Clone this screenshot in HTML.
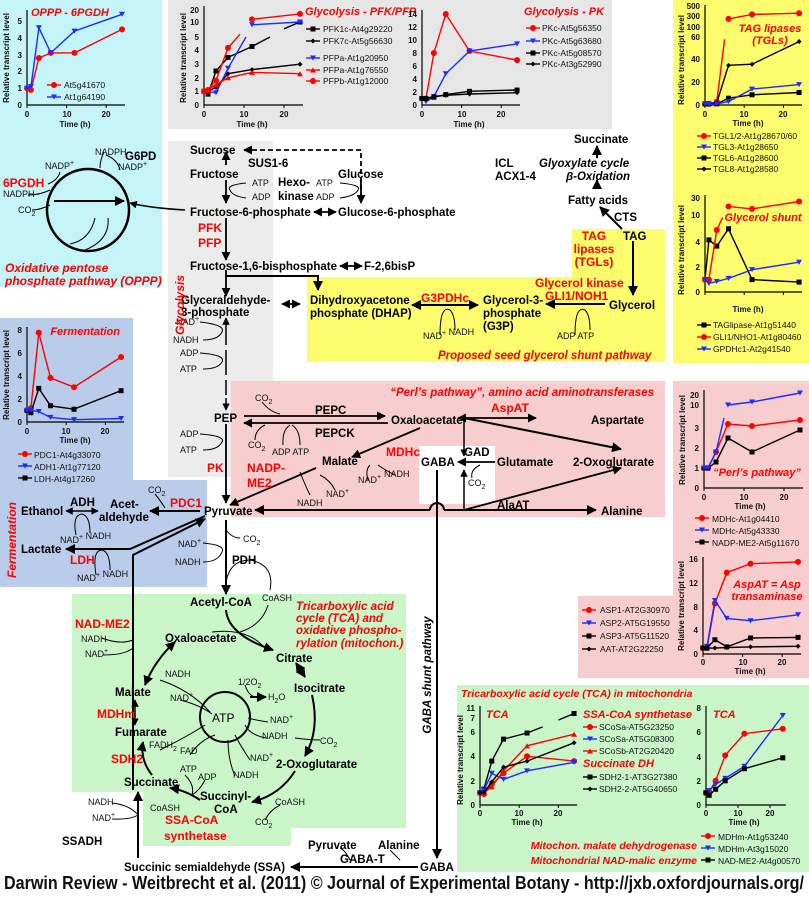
<!DOCTYPE html>
<html><head><meta charset="utf-8">
<style>
html,body{margin:0;padding:0;background:#fff}
svg{display:block}
text{font-family:"Liberation Sans",Arial,sans-serif}
.b{font-weight:bold;font-size:11.5px;fill:#000}
.r{font-weight:bold;font-size:12px;fill:#f00}
.ri{font-weight:bold;font-style:italic;font-size:11px;fill:#f00}
.s{font-size:9px;fill:#111}
.t{font-size:8px;fill:#111}
.lg{font-size:8.5px;fill:#111}
.ax{font-size:8px;fill:#111;font-weight:bold}
</style></head><body>
<svg id="S" width="809" height="901" viewBox="0 0 809 901" xmlns="http://www.w3.org/2000/svg">
<defs>
<marker id="a" viewBox="0 0 10 10" refX="9" refY="5" markerWidth="5" markerHeight="5" orient="auto-start-reverse"><path d="M0 0L10 5L0 10z" fill="#000"/></marker>
</defs>
<rect x="0" y="0" width="162" height="287" fill="#c4f3f8"/>
<rect x="168" y="0" width="444" height="129" fill="#e6e6e6"/>
<rect x="168" y="141" width="105" height="336" fill="#ececec"/>
<rect x="673" y="0" width="136" height="363" fill="#fcfc6c"/>
<path d="M572 229H665V362H307V277H572Z" fill="#fcfc6c"/>
<path d="M0 318H133V480H207V587H0Z" fill="#b9cdea"/>
<rect x="231" y="381" width="434" height="136" fill="#f7cdcd"/>
<rect x="419" y="446" width="76" height="58" fill="#fff"/>
<path d="M673 381H809V678H578V596H673Z" fill="#f7cdcd"/>
<path d="M72 594H406V828H291V846H143V792H72Z" fill="#c9f5c9"/>
<rect x="457" y="685" width="352" height="187" fill="#c9f5c9"/>

<g id="charts"></g>

<g class="ax">
<text x="31" y="16" class="ri">OPPP - 6PGDH</text>
<text x="22" y="108" text-anchor="end">0</text><text x="22" y="91" text-anchor="end">1</text><text x="22" y="74" text-anchor="end">2</text><text x="22" y="58" text-anchor="end">3</text><text x="22" y="41" text-anchor="end">4</text><text x="22" y="24" text-anchor="end">5</text>
<text x="27" y="117" text-anchor="middle">0</text><text x="67" y="117" text-anchor="middle">10</text><text x="106" y="117" text-anchor="middle">20</text>
<text x="75" y="127" text-anchor="middle">Time (h)</text>
<text transform="translate(9,58) rotate(-90)" text-anchor="middle">Relative transcript level</text>
</g>
<text x="64" y="88" class="lg">At5g41670</text><text x="64" y="100" class="lg">At1g64190</text>

<g class="ax">
<text x="305" y="15" class="ri">Glycolysis - PFK/PFP</text>
<text x="199" y="108" text-anchor="end">0</text><text x="199" y="94" text-anchor="end">1</text><text x="199" y="81" text-anchor="end">2</text><text x="199" y="67" text-anchor="end">3</text><text x="199" y="53" text-anchor="end">4</text><text x="199" y="40" text-anchor="end">5</text><text x="199" y="25" text-anchor="end">10</text><text x="199" y="13" text-anchor="end">20</text>
<text x="204" y="117" text-anchor="middle">0</text><text x="244" y="117" text-anchor="middle">10</text><text x="284" y="117" text-anchor="middle">20</text>
<text x="252" y="127" text-anchor="middle">Time (h)</text>
<text transform="translate(186,58) rotate(-90)" text-anchor="middle">Relative transcript level</text>
</g>
<text x="323" y="32" class="lg">PFK1c-At4g29220</text><text x="323" y="44" class="lg">PFK7c-At5g56630</text><text x="323" y="61" class="lg">PFPa-At1g20950</text><text x="323" y="73" class="lg">PFPa-At1g76550</text><text x="323" y="84" class="lg">PFPb-At1g12000</text>

<g class="ax">
<text x="524" y="15" class="ri">Glycolysis - PK</text>
<text x="417" y="108" text-anchor="end">0</text><text x="417" y="95" text-anchor="end">2</text><text x="417" y="82" text-anchor="end">4</text><text x="417" y="69" text-anchor="end">6</text><text x="417" y="56" text-anchor="end">8</text><text x="417" y="43" text-anchor="end">10</text><text x="417" y="30" text-anchor="end">12</text><text x="417" y="17" text-anchor="end">14</text>
<text x="422" y="117" text-anchor="middle">0</text><text x="462" y="117" text-anchor="middle">10</text><text x="501" y="117" text-anchor="middle">20</text>
<text x="469" y="127" text-anchor="middle">Time (h)</text>
</g>
<text x="542" y="31" class="lg">PKc-At5g56350</text><text x="542" y="44" class="lg">PKc-At5g63680</text><text x="542" y="56" class="lg">PKc-At5g08570</text><text x="542" y="67" class="lg">PKc-At3g52990</text>

<g class="ax">
<text x="700" y="108" text-anchor="end">0</text><text x="700" y="85" text-anchor="end">20</text><text x="700" y="62" text-anchor="end">40</text><text x="700" y="40" text-anchor="end">60</text><text x="700" y="30" text-anchor="end">100</text><text x="700" y="19" text-anchor="end">300</text><text x="700" y="9" text-anchor="end">500</text>
<text x="705" y="117" text-anchor="middle">0</text><text x="744" y="117" text-anchor="middle">10</text><text x="783" y="117" text-anchor="middle">20</text>
<text x="748" y="126" text-anchor="middle">Time (h)</text>
<text transform="translate(684,60) rotate(-90)" text-anchor="middle">Relative transcript level</text>
<text x="770" y="32" class="ri" text-anchor="middle">TAG lipases</text><text x="770" y="44" class="ri" text-anchor="middle">(TGLs)</text>
</g>
<text x="713" y="139" class="lg">TGL1/2-At1g28670/60</text><text x="713" y="150" class="lg">TGL3-At1g28650</text><text x="713" y="161" class="lg">TGL6-At1g28600</text><text x="713" y="172" class="lg">TGL8-At1g28580</text>

<g class="ax">
<text x="700" y="295" text-anchor="end">0</text><text x="700" y="270" text-anchor="end">2</text><text x="700" y="245" text-anchor="end">4</text><text x="700" y="218" text-anchor="end">10</text><text x="700" y="201" text-anchor="end">30</text>
<text x="763" y="221" class="ri" text-anchor="middle">Glycerol shunt</text>
<text x="748" y="312" text-anchor="middle">Time (h)</text>
<text transform="translate(684,250) rotate(-90)" text-anchor="middle">Relative transcript level</text>
</g>
<text x="713" y="328" class="lg">TAGlipase-At1g51440</text><text x="713" y="340" class="lg">GLI1/NHO1-At1g80460</text><text x="713" y="352" class="lg">GPDHc1-At2g41540</text>

<g class="ax">
<text x="120" y="335" class="ri" text-anchor="end">Fermentation</text>
<text x="22" y="425" text-anchor="end">0</text><text x="22" y="402" text-anchor="end">2</text><text x="22" y="379" text-anchor="end">4</text><text x="22" y="356" text-anchor="end">6</text><text x="22" y="333" text-anchor="end">8</text>
<text x="27" y="434" text-anchor="middle">0</text><text x="66" y="434" text-anchor="middle">10</text><text x="105" y="434" text-anchor="middle">20</text>
<text x="75" y="443" text-anchor="middle">Time (h)</text>
<text transform="translate(9,375) rotate(-90)" text-anchor="middle">Relative transcript level</text>
</g>
<text x="34" y="458" class="lg">PDC1-At4g33070</text><text x="34" y="470" class="lg">ADH1-At1g77120</text><text x="34" y="482" class="lg">LDH-At4g17260</text>

<g class="ax">
<text x="699" y="491" text-anchor="end">0</text><text x="699" y="471" text-anchor="end">1</text><text x="699" y="451" text-anchor="end">2</text><text x="699" y="431" text-anchor="end">3</text><text x="699" y="408" text-anchor="end">10</text><text x="699" y="398" text-anchor="end">20</text>
<text x="704" y="500" text-anchor="middle">0</text><text x="744" y="500" text-anchor="middle">10</text><text x="784" y="500" text-anchor="middle">20</text>
<text x="750" y="509" text-anchor="middle">Time (h)</text>
<text transform="translate(685,440) rotate(-90)" text-anchor="middle">Relative transcript level</text>
<text x="757" y="476" class="ri" text-anchor="middle">“Perl’s pathway”</text>
</g>
<text x="712" y="522" class="lg">MDHc-At1g04410</text><text x="712" y="534" class="lg">MDHc-At5g43330</text><text x="712" y="546" class="lg">NADP-ME2-At5g11670</text>

<g class="ax">
<text x="698" y="657" text-anchor="end">0</text><text x="698" y="633" text-anchor="end">4</text><text x="698" y="610" text-anchor="end">8</text><text x="698" y="586" text-anchor="end">12</text><text x="698" y="562" text-anchor="end">16</text>
<text x="703" y="665" text-anchor="middle">0</text><text x="743" y="665" text-anchor="middle">10</text><text x="782" y="665" text-anchor="middle">20</text>
<text x="750" y="674" text-anchor="middle">Time (h)</text>
<text transform="translate(684,606) rotate(-90)" text-anchor="middle">Relative transcript level</text>
<text x="767" y="588" class="ri" text-anchor="middle">AspAT = Asp</text><text x="767" y="600" class="ri" text-anchor="middle">transaminase</text>
</g>
<text x="600" y="613" class="lg">ASP1-AT2G30970</text><text x="600" y="626" class="lg">ASP2-AT5G19550</text><text x="600" y="639" class="lg">ASP3-AT5G11520</text><text x="600" y="652" class="lg">AAT-AT2G22250</text>

<text x="461" y="697" class="ri" style="font-size:10.5px">Tricarboxylic acid cycle (TCA) in mitochondria</text>
<g class="ax">
<text x="486" y="718" class="ri">TCA</text>
<text x="475" y="808" text-anchor="end">0</text><text x="475" y="784" text-anchor="end">2</text><text x="475" y="759" text-anchor="end">4</text><text x="475" y="735" text-anchor="end">6</text><text x="475" y="721" text-anchor="end">7</text><text x="475" y="711" text-anchor="end">11</text>
<text x="480" y="816" text-anchor="middle">0</text><text x="519" y="816" text-anchor="middle">10</text><text x="558" y="816" text-anchor="middle">20</text>
<text x="527" y="825" text-anchor="middle">Time (h)</text>
<text transform="translate(463,760) rotate(-90)" text-anchor="middle">Relative transcript level</text>
<text x="583" y="718" class="ri">SSA-CoA synthetase</text>
<text x="583" y="767" class="ri">Succinate DH</text>
<text x="713" y="718" class="ri">TCA</text>
<text x="701" y="808" text-anchor="end">0</text><text x="701" y="784" text-anchor="end">2</text><text x="701" y="760" text-anchor="end">4</text><text x="701" y="735" text-anchor="end">6</text><text x="701" y="711" text-anchor="end">8</text>
<text x="706" y="816" text-anchor="middle">0</text><text x="738" y="816" text-anchor="middle">10</text><text x="770" y="816" text-anchor="middle">20</text>
<text x="744" y="825" text-anchor="middle">Time (h)</text>
</g>
<text x="599" y="730" class="lg">SCoSa-AT5G23250</text><text x="599" y="742" class="lg">SCoSa-AT5G08300</text><text x="599" y="754" class="lg">SCoSb-AT2G20420</text>
<text x="599" y="780" class="lg">SDH2-1-AT3G27380</text><text x="599" y="792" class="lg">SDH2-2-AT5G40650</text>
<text x="697" y="849" class="ri" text-anchor="end" style="font-size:10.5px">Mitochon. malate dehydrogenase</text>
<text x="697" y="864" class="ri" text-anchor="end" style="font-size:10.5px">Mitochondrial NAD-malic enzyme</text>
<text x="718" y="840" class="lg">MDHm-At1g53240</text><text x="718" y="852" class="lg">MDHm-At3g15020</text><text x="718" y="864" class="lg">NAD-ME2-At4g00570</text>

<g stroke="#000" fill="none" stroke-width="1.8">
<circle cx="88" cy="210" r="41" stroke-width="2.5"/>
<path d="M54 201H124" stroke-width="2" marker-end="url(#a)"/>
<path d="M185 210Q150 208 130 203" stroke-width="1.5" marker-end="url(#a)"/>
<path d="M95 218Q90 240 70 244M108 218Q110 240 85 250" stroke-width="1"/>
<path d="M100 168Q100 160 104 152M120 170Q118 160 106 155M60 172Q58 180 48 184M50 190Q40 195 28 195M50 205Q40 210 32 210" stroke-width="1"/>
<path d="M361 198V150H244" stroke-dasharray="5,3" stroke-width="1.8" marker-end="url(#a)"/>
<path d="M226 165V152" marker-end="url(#a)"/>
<path d="M226 180V203" marker-end="url(#a)"/>
<path d="M361 180V203" marker-end="url(#a)"/>
<path d="M246 183Q226 185 230 190Q232 196 246 198" stroke-width="1"/>
<path d="M340 183Q362 185 358 190Q355 196 340 198" stroke-width="1"/>
<path d="M314 212H336" marker-start="url(#a)" marker-end="url(#a)"/>
<path d="M226 218V260" marker-end="url(#a)"/>
<path d="M340 266H362" marker-start="url(#a)" marker-end="url(#a)"/>
<path d="M226 270V296" marker-end="url(#a)"/>
<path d="M226 276H318V290" stroke-width="2" marker-end="url(#a)"/>
<path d="M282 304H300" marker-start="url(#a)" marker-end="url(#a)"/>
<path d="M226 318V345M226 350V375M226 380V395M226 398V410" marker-start="url(#a)" marker-end="url(#a)" stroke-width="1.5"/>
<path d="M200 322Q226 325 222 332Q218 340 203 340M200 353Q226 355 222 362Q218 369 203 369" stroke-width="1" />
<path d="M226 424V503" marker-end="url(#a)"/>
<path d="M200 434Q226 436 222 442Q218 450 203 450" stroke-width="1"/>
<path d="M244 416H385" marker-end="url(#a)"/>
<path d="M388 423H244" marker-end="url(#a)"/>
<path d="M262 402Q270 412 280 414M265 425Q255 430 255 440M290 425Q282 430 283 445M292 425Q300 430 300 445" stroke-width="1"/>
<path d="M464 418H458" marker-end="url(#a)"/>
<path d="M464 418H536" marker-end="url(#a)"/>
<path d="M464 418V456" marker-end="url(#a)" stroke-width="1.5"/>
<path d="M464 418L621 449" marker-end="url(#a)" stroke-width="2"/>
<path d="M420 428L352 457" marker-end="url(#a)" stroke-width="1.8"/>
<path d="M316 468L230 505" marker-end="url(#a)"/>
<path d="M300 472Q305 485 310 495M320 475Q330 480 335 490M370 465Q365 470 368 480M378 465Q385 470 395 475" stroke-width="1"/>
<path d="M495 462H458" marker-end="url(#a)"/>
<path d="M480 465Q470 470 472 478" stroke-width="1"/>
<path d="M464 510V470" marker-end="url(#a)" stroke-width="1.5"/>
<path d="M464 510L621 468" marker-end="url(#a)"/>
<path d="M430 510H255" marker-end="url(#a)" stroke-width="2"/>
<path d="M430 510A7 7 0 0 1 444 510" stroke-width="2"/>
<path d="M444 510H596" marker-end="url(#a)" stroke-width="2"/>
<path d="M437 470V858" marker-end="url(#a)" stroke-width="2"/>
<path d="M412 305H478" marker-start="url(#a)" marker-end="url(#a)" stroke-width="2"/>
<path d="M440 335Q440 305 450 310Q455 315 455 330" stroke-width="1"/>
<path d="M605 304H546" marker-end="url(#a)" stroke-width="2"/>
<path d="M575 335Q575 305 585 310Q590 315 590 330" stroke-width="1"/>
<path d="M633 241V295" marker-end="url(#a)" stroke-width="2"/>
<path d="M622 229L600 207" marker-end="url(#a)" stroke-width="2"/>
<path d="M597 188V180" marker-end="url(#a)" stroke-width="2"/>
<path d="M597 158V146" marker-end="url(#a)" stroke-width="2"/>
<path d="M200 511H150" marker-end="url(#a)" stroke-width="2"/>
<path d="M165 508Q160 500 155 494" stroke-width="1"/>
<path d="M66 511H98" marker-start="url(#a)" marker-end="url(#a)" stroke-width="1.5"/>
<path d="M76 535Q72 515 82 514Q90 516 90 533" stroke-width="1"/>
<path d="M205 516L130 549H66" marker-end="url(#a)" stroke-width="2"/>
<path d="M96 575Q92 550 102 550Q110 552 110 570" stroke-width="1"/>
<path d="M133 790V555L205 519" marker-end="url(#a)" stroke-width="2"/>
<path d="M133 640Q120 645 102 638M133 648Q125 655 103 655" stroke-width="1"/>
<path d="M226 520V594" marker-end="url(#a)" stroke-width="2"/>
<path d="M226 530Q232 538 240 538M203 543Q226 545 222 552Q218 562 203 562" stroke-width="1"/>
<path d="M226 582Q230 560 250 560Q275 565 270 590" stroke-width="1"/>
<path d="M226 610Q228 635 273 650" marker-end="url(#a)" stroke-width="2"/>
<path d="M212 632Q245 628 262 645" stroke-width="1"/>
<path d="M268 605Q262 625 240 632" stroke-width="1"/>
<path d="M296 663L305 677" marker-start="url(#a)" marker-end="url(#a)" stroke-width="2"/>
<path d="M312 695Q320 730 305 756" marker-end="url(#a)" stroke-width="2"/>
<path d="M295 771Q280 795 252 802" marker-end="url(#a)" stroke-width="2"/>
<path d="M200 800Q185 790 170 788" marker-end="url(#a)" stroke-width="2"/>
<path d="M152 775Q140 760 143 742" marker-end="url(#a)" stroke-width="2"/>
<path d="M135 700V725" marker-start="url(#a)" marker-end="url(#a)" stroke-width="1.5"/>
<path d="M145 685Q155 660 175 642" marker-start="url(#a)" marker-end="url(#a)" stroke-width="2"/>
<path d="M138 858V792" marker-end="url(#a)" stroke-width="2"/>
<path d="M138 815Q130 805 112 803M138 815Q130 820 112 819" stroke-width="1"/>
<path d="M418 867H291" marker-end="url(#a)" stroke-width="2"/>
<path d="M350 860Q345 850 340 848M400 860Q395 855 390 850" stroke-width="1"/>
<circle cx="225" cy="717" r="25" stroke-width="2"/>
<path d="M250 697Q260 697 266 697" marker-end="url(#a)" stroke-width="2"/>
<path d="M245 685Q248 695 255 697M160 680Q190 690 210 712M180 700Q200 705 212 714M268 722Q255 720 248 718M266 738Q250 735 245 725M250 760Q240 745 235 735M235 776Q228 760 228 740M160 750Q190 735 205 725M190 755Q200 740 215 735M185 775Q195 785 192 795M205 780Q200 790 192 795M280 805Q270 810 265 820M320 740Q310 740 295 738" stroke-width="1"/>
</g>

<g class="s">
<text x="95" y="155">NADPH</text><text x="118" y="170">NADP<tspan dy="-4" font-size="7">+</tspan></text>
<text x="45" y="169">NADP<tspan dy="-4" font-size="7">+</tspan></text>
<text x="3" y="197">NADPH</text><text x="18" y="213">CO<tspan dy="3" font-size="7">2</tspan></text>
<text x="252" y="186">ATP</text><text x="252" y="200">ADP</text><text x="316" y="186">ATP</text><text x="316" y="200">ADP</text>
<text x="176" y="325">NAD<tspan dy="-4" font-size="7">+</tspan></text><text x="173" y="343">NADH</text><text x="180" y="356">ADP</text><text x="180" y="372">ATP</text>
<text x="180" y="437">ADP</text><text x="180" y="453">ATP</text>
<text x="255" y="401">CO<tspan dy="3" font-size="7">2</tspan></text><text x="248" y="448">CO<tspan dy="3" font-size="7">2</tspan></text><text x="272" y="455">ADP ATP</text>
<text x="297" y="506">NADH</text><text x="326" y="497">NAD<tspan dy="-4" font-size="7">+</tspan></text><text x="358" y="483">NAD<tspan dy="-4" font-size="7">+</tspan></text><text x="384" y="477">NADH</text>
<text x="468" y="486">CO<tspan dy="3" font-size="7">2</tspan></text>
<text x="423" y="339">NAD<tspan dy="-4" font-size="7">+</tspan> NADH</text><text x="557" y="339">ADP  ATP</text>
<text x="148" y="493">CO<tspan dy="3" font-size="7">2</tspan></text>
<text x="60" y="543">NAD<tspan dy="-4" font-size="7">+</tspan> NADH</text><text x="77" y="581">NAD<tspan dy="-4" font-size="7">+</tspan> NADH</text>
<text x="243" y="542">CO<tspan dy="3" font-size="7">2</tspan></text><text x="178" y="547">NAD<tspan dy="-4" font-size="7">+</tspan></text><text x="175" y="565">NADH</text>
<text x="262" y="601">CoASH</text>
<text x="81" y="642">NADH</text><text x="85" y="657">NAD<tspan dy="-4" font-size="7">+</tspan></text>
<text x="165" y="677">NADH</text><text x="170" y="701">NAD<tspan dy="-4" font-size="7">+</tspan></text>
<text x="238" y="685">1/2O<tspan dy="3" font-size="7">2</tspan></text><text x="268" y="700">H<tspan dy="3" font-size="7">2</tspan><tspan dy="-3">O</tspan></text>
<text x="270" y="723">NAD<tspan dy="-4" font-size="7">+</tspan></text><text x="262" y="739">NADH</text><text x="320" y="744">CO<tspan dy="3" font-size="7">2</tspan></text>
<text x="250" y="761">NAD<tspan dy="-4" font-size="7">+</tspan></text><text x="233" y="778">NADH</text>
<text x="149" y="748">FADH<tspan dy="3" font-size="7">2</tspan></text><text x="180" y="754">FAD</text>
<text x="180" y="772">ATP</text><text x="198" y="780">ADP</text>
<text x="150" y="811">CoASH</text><text x="275" y="805">CoASH</text><text x="255" y="825">CO<tspan dy="3" font-size="7">2</tspan></text>
<text x="88" y="805">NADH</text><text x="92" y="821">NAD<tspan dy="-4" font-size="7">+</tspan></text>
</g>
<text x="212" y="722" font-size="12" fill="#000">ATP</text>
<g class="b">
<text x="125" y="160">G6PD</text>
<text x="190" y="154">Sucrose</text><text x="248" y="167">SUS1-6</text>
<text x="190" y="178">Fructose</text><text x="338" y="178">Glucose</text>
<text x="278" y="186">Hexo-</text><text x="278" y="200">kinase</text>
<text x="190" y="216">Fructose-6-phosphate</text><text x="338" y="216">Glucose-6-phosphate</text>
<text x="190" y="270">Fructose-1,6-bisphosphate</text><text x="364" y="270">F-2,6bisP</text>
<text x="181" y="304">Glyceraldehyde-</text><text x="181" y="316">3-phosphate</text>
<text x="310" y="304">Dihydroxyacetone</text><text x="310" y="317">phosphate (DHAP)</text>
<text x="483" y="304">Glycerol-3-</text><text x="483" y="317">phosphate</text><text x="483" y="330">(G3P)</text>
<text x="609" y="309">Glycerol</text>
<text x="574" y="143">Succinate</text><text x="495" y="167">ICL</text><text x="495" y="180">ACX1-4</text>
<text x="539" y="167" font-style="italic">Glyoxylate cycle</text><text x="566" y="180" font-style="italic">β-Oxidation</text>
<text x="568" y="204">Fatty acids</text><text x="614" y="221">CTS</text><text x="623" y="240">TAG</text>
<text x="214" y="422">PEP</text><text x="315" y="414">PEPC</text><text x="315" y="437">PEPCK</text>
<text x="391" y="424">Oxaloacetate</text><text x="591" y="424">Aspartate</text>
<text x="322" y="465">Malate</text><text x="421" y="466">GABA</text><text x="464" y="456">GAD</text><text x="497" y="466">Glutamate</text><text x="573" y="466">2-Oxoglutarate</text>
<text x="497" y="509">AlaAT</text><text x="601" y="515">Alanine</text>
<text x="204" y="515">Pyruvate</text>
<text x="21" y="515">Ethanol</text><text x="70" y="506">ADH</text><text x="110" y="508">Acet-</text><text x="99" y="521">aldehyde</text>
<text x="21" y="553">Lactate</text>
<text x="232" y="564">PDH</text>
<text x="190" y="606">Acetyl-CoA</text>
<text x="165" y="642">Oxaloacetate</text><text x="276" y="662">Citrate</text><text x="294" y="692">Isocitrate</text>
<text x="115" y="696">Malate</text><text x="115" y="736">Fumarate</text><text x="124" y="786">Succinate</text>
<text x="276" y="768">2-Oxoglutarate</text><text x="200" y="800">Succinyl-</text><text x="214" y="813">CoA</text>
<text x="62" y="845">SSADH</text>
<text x="124" y="871">Succinic semialdehyde (SSA)</text>
<text x="308" y="849">Pyruvate</text><text x="378" y="849">Alanine</text><text x="340" y="863">GABA-T</text><text x="420" y="871">GABA</text>
</g>
<g class="r">
<text x="3" y="187">6PGDH</text>
<text x="198" y="232">PFK</text><text x="198" y="247">PFP</text>
<text x="594" y="240" text-anchor="middle">TAG</text><text x="594" y="253" text-anchor="middle">lipases</text><text x="594" y="266" text-anchor="middle">(TGLs)</text>
<text x="421" y="302">G3PDHc</text><text x="535" y="287">Glycerol kinase</text><text x="545" y="300">GLI1/NOH1</text>
<text x="491" y="412">AspAT</text><text x="386" y="456">MDHc</text>
<text x="247" y="472">NADP-</text><text x="247" y="487">ME2</text><text x="207" y="472">PK</text>
<text x="170" y="507">PDC1</text><text x="70" y="564">LDH</text>
<text x="75" y="628">NAD-ME2</text><text x="97" y="718">MDHm</text><text x="111" y="763">SDH2</text>
<text x="165" y="824">SSA-CoA</text><text x="164" y="840">synthetase</text>
</g>
<g class="ri" style="font-size:12px">
<text x="5" y="272">Oxidative pentose</text><text x="5" y="285">phosphate pathway (OPPP)</text>
<text transform="translate(184,305) rotate(-90)" text-anchor="middle">Glycolysis</text>
<text transform="translate(16,540) rotate(-90)" text-anchor="middle">Fermentation</text>
<text x="438" y="359" style="font-size:11.5px">Proposed seed glycerol shunt pathway</text>
<text x="654" y="396" text-anchor="end" style="font-size:11.5px">“Perl’s pathway”, amino acid aminotransferases</text>
<text x="296" y="610" style="font-size:11.5px">Tricarboxylic acid</text><text x="296" y="622" style="font-size:11.5px">cycle (TCA) and</text><text x="296" y="634" style="font-size:11.5px">oxidative phospho-</text><text x="296" y="647" style="font-size:11.5px">rylation (mitochon.)</text>
</g>
<text transform="translate(431,675) rotate(-90)" text-anchor="middle" font-size="11.5" font-weight="bold" font-style="italic" fill="#000">GABA shunt pathway</text>
<text x="4" y="889" font-size="18" font-weight="bold" fill="#111" textLength="800" lengthAdjust="spacingAndGlyphs">Darwin Review - Weitbrecht et al. (2011) © Journal of Experimental Botany - http://jxb.oxfordjournals.org/</text>
</svg>
<script>
(function(){
var NS="http://www.w3.org/2000/svg",G=document.getElementById("charts");
var R="#f00",B="#1a2cff",K="#000";
function el(n,a){var e=document.createElementNS(NS,n);for(var k in a)e.setAttribute(k,a[k]);G.appendChild(e);return e;}
function mk(X,Y,c,m){
 if(m=="c")el("circle",{cx:X,cy:Y,r:3,fill:c});
 else if(m=="s")el("rect",{x:X-2.5,y:Y-2.5,width:5,height:5,fill:c});
 else if(m=="t")el("path",{d:"M"+(X-3)+" "+(Y-2.5)+"h6l-3 5z",fill:c});
 else if(m=="u")el("path",{d:"M"+(X-3)+" "+(Y+2.5)+"h6l-3 -5z",fill:c});
 else el("path",{d:"M"+(X-2.5)+" "+Y+"l2.5 -2.5l2.5 2.5l-2.5 2.5z",fill:c});}
function ch(x0,y0,sx,sy,top,series){
 el("path",{d:"M"+x0+" "+top+"V"+y0+"H"+(x0+24*sx+3),stroke:"#000","stroke-width":1.2,fill:"none"});
 for(var v=0;v<=24;v+=10){el("path",{d:"M"+(x0+v*sx)+" "+y0+"v3",stroke:"#000","stroke-width":1});}
 series.forEach(function(s){
  var d="",pen=false;
  s.p.forEach(function(q){ if(!q){pen=false;return;} var X=x0+q[0]*sx,Y=y0-q[1]*sy; d+=(pen?"L":"M")+X.toFixed(1)+" "+Y.toFixed(1); pen=true;});
  el("path",{d:d,stroke:s.c,"stroke-width":1.4,fill:"none"});
  s.p.forEach(function(q){ if(!q||q[2])return; mk(x0+q[0]*sx,y0-q[1]*sy,s.c,s.m);});
 });
}
function leg(x,y,c,m){el("path",{d:"M"+x+" "+y+"h14",stroke:c,"stroke-width":1.4});mk(x+7,y,c,m);}
ch(27,105,3.96,16.8,10,[{c:R,m:"c",p:[[0,1],[1,.9],[3,2.8],[6,3.1],[12,3.1],[24,4.5]]},{c:B,m:"t",p:[[0,1],[1,1.1],[3,4.6],[6,3.1],[12,4.4],[24,5.4]]}]);
leg(47,85,R,"c");leg(47,97,B,"t");
ch(204,105,4,13.6,6,[{c:K,m:"s",p:[[0,1],[1,.8],[3,2.5],[6,3.5],[12,4.3],[16.5,5,1],null,[20,5.6,1],[24,6.1]]},{c:K,m:"d",p:[[0,1],[1,1],[3,1.3],[6,2.3],[12,2.6],[24,3]]},{c:B,m:"t",p:[[0,1],[1,1],[3,.9],[6,2.7],[10.5,5,1],null,[12,5.9],[24,6.1]]},{c:R,m:"u",p:[[0,1],[1,1.1],[3,1.5],[6,2],[12,2.4],[24,2.3]]},{c:R,m:"c",p:[[0,1],[1,1.1],[3,1.8],[6,4.2],[9,5.2,1],null,[12,6.3],[24,6.7]]}]);
leg(306,29,K,"s");leg(306,41,K,"d");leg(306,58,B,"t");leg(306,70,R,"u");leg(306,81,R,"c");
ch(422,105,3.96,6.5,10,[{c:R,m:"c",p:[[0,1],[1,1],[3,8],[6,14],[12,8.3],[24,6.9]]},{c:B,m:"t",p:[[0,1],[1,.5],[3,1.3],[6,4.8],[12,8.3],[24,9.4]]},{c:K,m:"s",p:[[0,1],[1,1],[3,1.2],[6,1.6],[12,2.1],[24,2.3]]},{c:K,m:"d",p:[[0,1],[1,1],[3,1.3],[6,1.5],[12,1.7],[24,1.9]]}]);
leg(526,28,R,"c");leg(526,41,B,"t");leg(526,53,K,"s");leg(526,64,K,"d");
ch(705,105,3.92,1.133,5,[{c:R,m:"c",p:[[0,1],[1,1],[3,3],[5,58,1],null,[6,76],[12,80],[24,81]]},{c:K,m:"d",p:[[0,1],[1,1],[3,2],[6,35],[12,36],[24,56]]},{c:K,m:"s",p:[[0,1],[1,1],[3,1],[6,6],[12,9],[24,11]]},{c:B,m:"t",p:[[0,1],[1,.5],[3,1],[6,3],[12,14],[24,18]]}]);
leg(697,136,R,"c");leg(697,147,B,"t");leg(697,158,K,"s");leg(697,169,K,"d");
ch(705,292,3.92,12.4,195,[{c:K,m:"s",p:[[0,1],[1,4.2],[3,3.7],[6,5.1],[12,1],[24,.8]]},{c:R,m:"c",p:[[0,1],[1,1],[3,5],[4.5,6,1],null,[6,6.9],[12,6.7],[24,7.3]]},{c:B,m:"t",p:[[0,1],[1,.7],[3,.85],[6,1.1],[12,1.8],[24,2.4]]}]);
leg(697,325,K,"s");leg(697,337,R,"c");leg(697,349,B,"t");
ch(27,422,3.92,11.6,327,[{c:R,m:"c",p:[[0,1],[1,1.2],[3,7.7],[6,3.8],[12,3],[24,5.6]]},{c:K,m:"s",p:[[0,1],[1,.8],[3,2.9],[6,1.4],[12,1.1],[24,2.7]]},{c:B,m:"t",p:[[0,1],[1,1],[3,.9],[6,.4],[12,.2],[24,.3]]}]);
leg(18,454,R,"c");leg(18,466,B,"t");leg(18,478,K,"s");
ch(704,488,4,20,390,[{c:R,m:"c",p:[[0,1],[1,1],[3,1.8],[6,3.2],[12,3.1],[24,3.4]]},{c:K,m:"s",p:[[0,1],[1,1],[3,1.3],[6,2.5],[12,1.8],[24,2.9]]},{c:B,m:"t",p:[[0,1],[1,1],[3,1.8],[5,3.5,1],null,[6,4.15],[12,4.3],[24,4.75]]}]);
leg(695,518,R,"c");leg(695,530,B,"t");leg(695,542,K,"s");
ch(703,654,3.96,5.94,557,[{c:R,m:"c",p:[[0,1],[1,1],[3,8.5],[6,13.7],[12,15.2],[24,15.5]]},{c:B,m:"t",p:[[0,1],[1,1.3],[3,9],[6,6],[12,5.6],[24,6.6]]},{c:K,m:"s",p:[[0,1],[1,1],[3,2.4],[6,1.2],[12,2.7],[24,2.8]]},{c:K,m:"d",p:[[0,1],[1,1],[3,1],[6,1.1],[12,1.2],[24,1.3]]}]);
leg(582,610,R,"c");leg(582,623,B,"t");leg(582,636,K,"s");leg(582,649,K,"d");
ch(480,805,3.92,12.2,706,[{c:K,m:"s",p:[[0,1],[1,1.3],[3,3.6],[6,5.4],[12,5.9],[16,6.4,1],null,[20,6.97,1],[24,7.5]]},{c:R,m:"c",p:[[0,1],[1,.9],[3,1.7],[6,2.6],[12,4],[24,3.6]]},{c:B,m:"t",p:[[0,1],[1,1.2],[3,2.6],[6,2.1],[12,2.8],[24,3.5]]},{c:R,m:"u",p:[[0,1],[1,1],[3,1.5],[6,2.8],[12,4.85],[24,5.8]]},{c:K,m:"d",p:[[0,1],[1,1],[3,1.9],[6,3.1],[12,3.6],[24,5.1]]}]);
leg(583,727,R,"c");leg(583,739,B,"t");leg(583,751,R,"u");leg(583,777,K,"s");leg(583,789,K,"d");
ch(706,805,3.2,12.1,706,[{c:R,m:"c",p:[[0,1],[1,1.1],[3,2],[6,4.1],[12,5.9],[24,6.3]]},{c:B,m:"t",p:[[0,1],[1,1.2],[3,1.7],[6,2.2],[12,3.2],[24,7.4]]},{c:K,m:"s",p:[[0,1],[1,.8],[3,1.3],[6,2],[12,3],[24,3.9]]}]);
leg(701,836,R,"c");leg(701,848,B,"t");leg(701,860,K,"s");
})();
</script>
</body></html>
